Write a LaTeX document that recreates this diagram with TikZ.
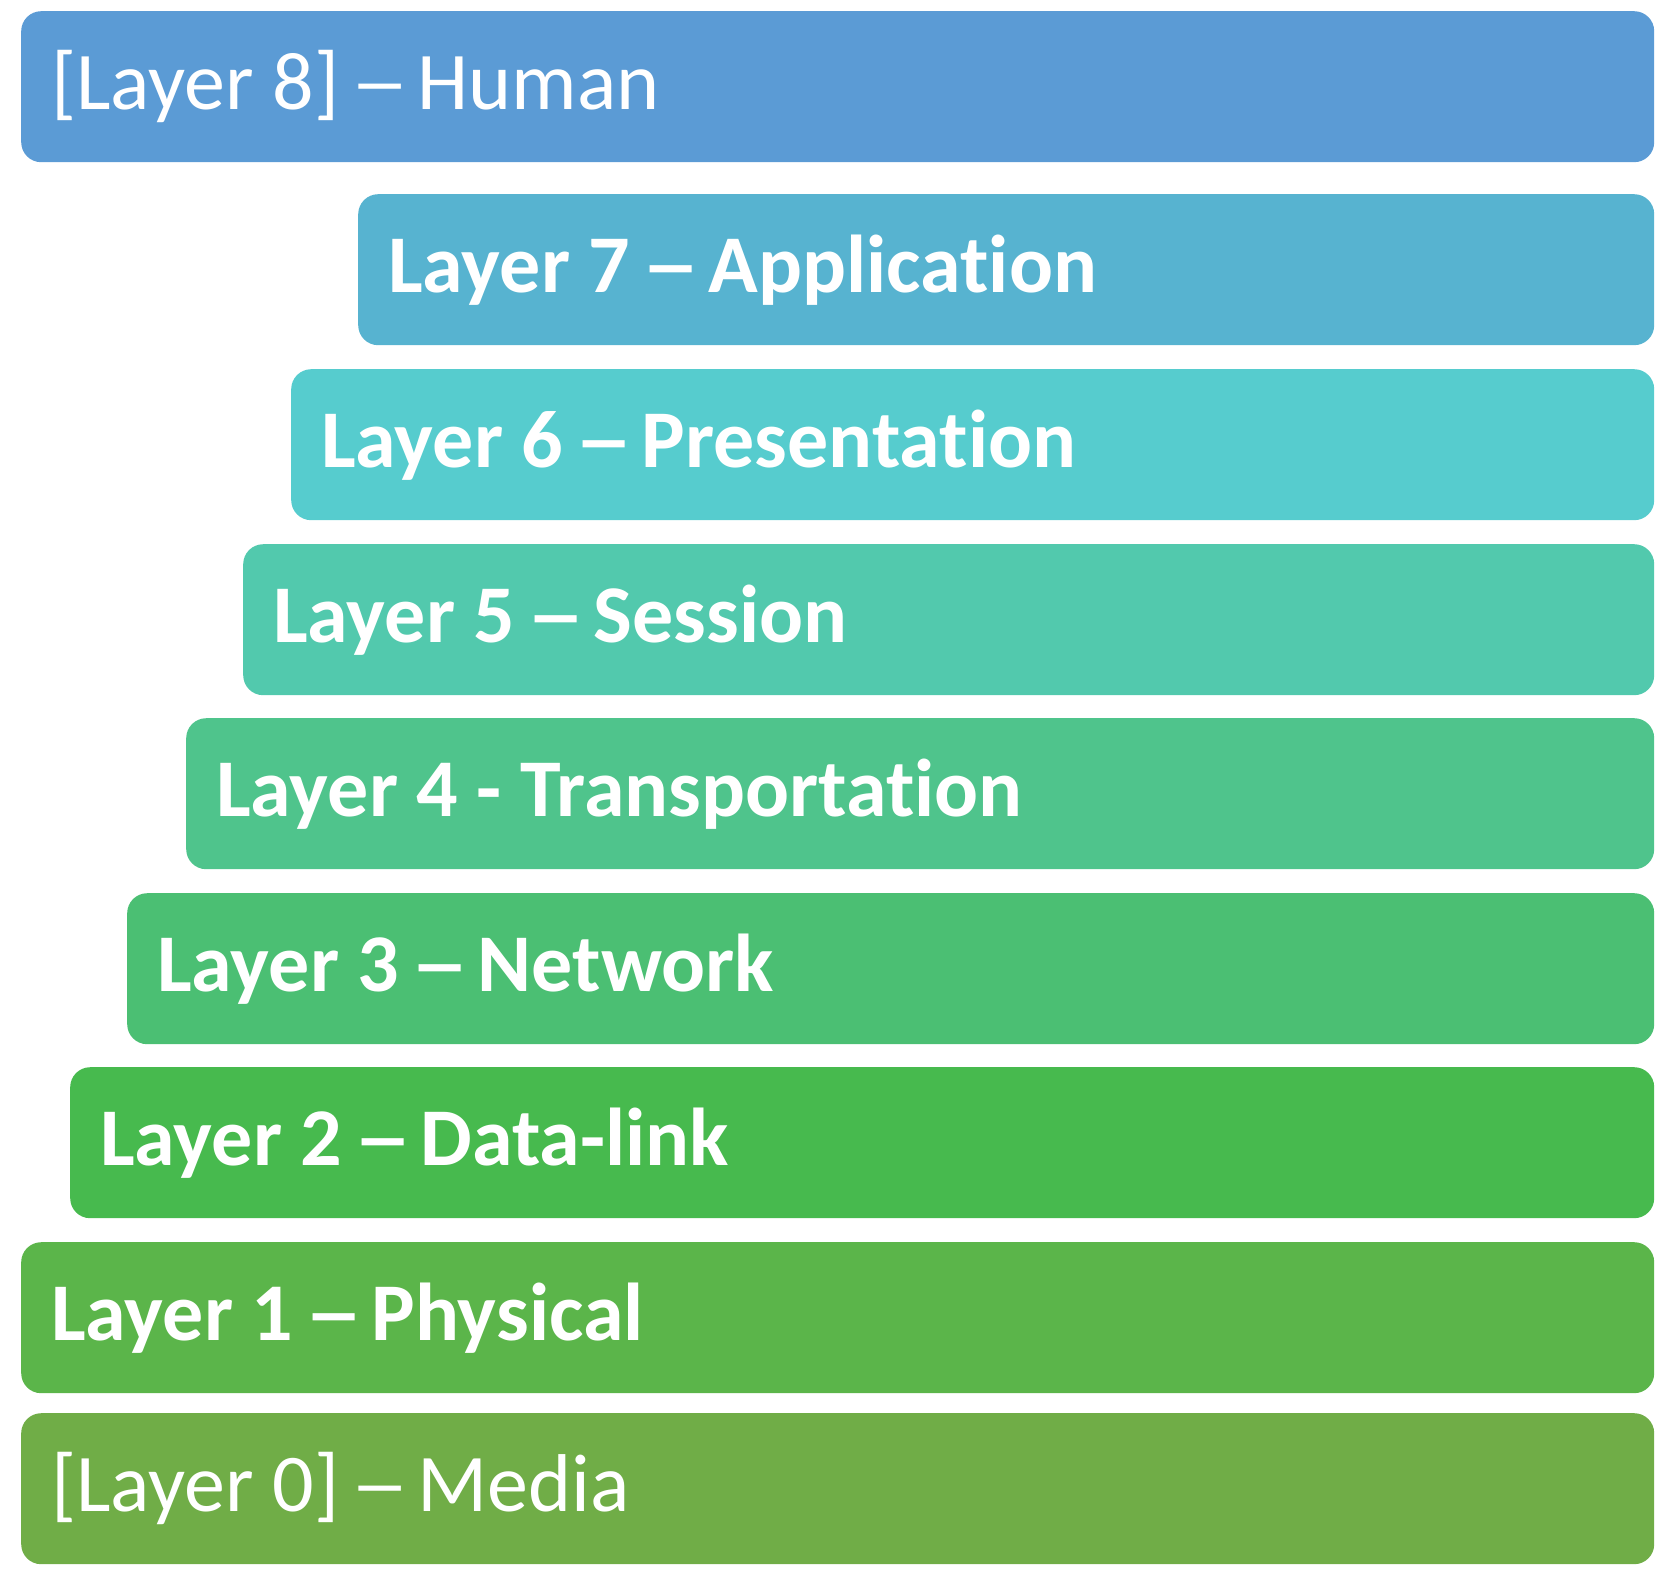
\documentclass[tikz,border=0pt]{standalone}
\usepackage{graphicx}
\usepackage{fontspec}
\setmainfont{Carlito}[Ligatures=NoCommon]
\definecolor{c8}{RGB}{91,155,213}
\definecolor{c7}{RGB}{87,179,208}
\definecolor{c6}{RGB}{86,204,206}
\definecolor{c5}{RGB}{82,201,173}
\definecolor{c4}{RGB}{79,196,140}
\definecolor{c3}{RGB}{75,191,115}
\definecolor{c2}{RGB}{71,186,78}
\definecolor{c1}{RGB}{91,181,74}
\definecolor{c0}{RGB}{112,173,71}
\newcommand\ldash{\hspace{0.135em}\scalebox{1.45}[1]{–}\hspace{0.1em}}
\tikzset{
  layerbox/.style={rounded corners=20pt, draw=none, inner sep=0pt, anchor=north west, minimum height=151pt},
  lbl/.style={text=white, inner sep=0pt, anchor=base west, font=\fontsize{82pt}{90pt}\selectfont},
  blbl/.style={lbl, font=\fontsize{82pt}{90pt}\selectfont\bfseries}
}
\begin{document}
\begin{tikzpicture}[x=1pt,y=1pt]
\useasboundingbox (0,0) rectangle (1663,-1590);
\node[layerbox, fill=c8, minimum width=1633pt] (b8) at (21,-11) {};
\node[layerbox, fill=c7, minimum width=1296pt] (b7) at (358,-194) {};
\node[layerbox, fill=c6, minimum width=1363pt] (b6) at (291,-369) {};
\node[layerbox, fill=c5, minimum width=1411pt] (b5) at (243,-544) {};
\node[layerbox, fill=c4, minimum width=1468pt] (b4) at (186,-718) {};
\node[layerbox, fill=c3, minimum width=1527pt] (b3) at (127,-893) {};
\node[layerbox, fill=c2, minimum width=1584pt] (b2) at (70,-1067) {};
\node[layerbox, fill=c1, minimum width=1633pt] (b1) at (21,-1242) {};
\node[layerbox, fill=c0, minimum width=1633pt] (b0) at (21,-1413) {};
\node[lbl]  (t8) at ([xshift=30pt,yshift=-23pt]b8.west) {[Layer 8]\ldash{}Human};
\node[blbl] (t7) at ([xshift=30pt,yshift=-23pt]b7.west) {Layer 7\ldash{}Application};
\node[blbl] (t6) at ([xshift=30pt,yshift=-23pt]b6.west) {Layer 6\ldash{}Presentation};
\node[blbl] (t5) at ([xshift=30pt,yshift=-23pt]b5.west) {Layer 5\ldash{}Session};
\node[blbl] (t4) at ([xshift=30pt,yshift=-23pt]b4.west) {Layer 4 - Transportation};
\node[blbl] (t3) at ([xshift=30pt,yshift=-23pt]b3.west) {Layer 3\ldash{}Network};
\node[blbl] (t2) at ([xshift=30pt,yshift=-23pt]b2.west) {Layer 2\ldash{}Data-link};
\node[blbl] (t1) at ([xshift=30pt,yshift=-23pt]b1.west) {Layer 1\ldash{}Physical};
\node[lbl]  (t0) at ([xshift=30pt,yshift=-23pt]b0.west) {[Layer 0]\ldash{}Media};
\end{tikzpicture}
\end{document}
